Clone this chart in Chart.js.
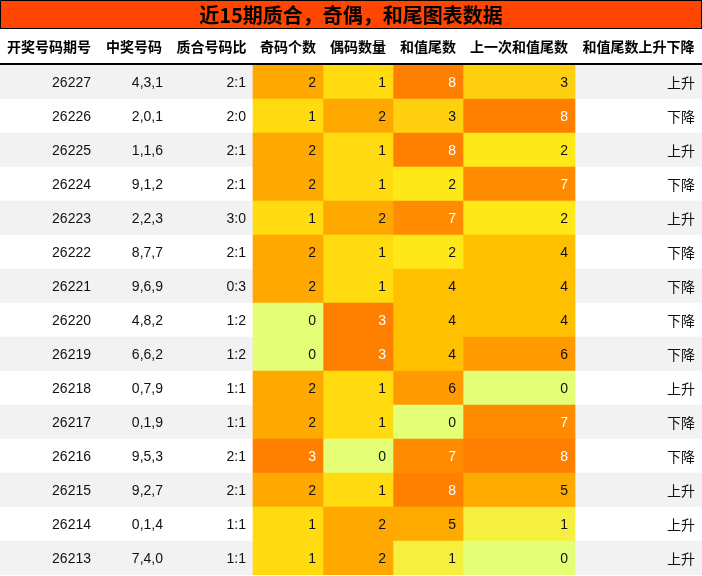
<!DOCTYPE html>
<html><head><meta charset="utf-8">
<script src="https://cdn.jsdelivr.net/npm/chart.js@4/dist/chart.umd.min.js"></script>
<style>html,body{margin:0;padding:0;background:#fff}canvas{display:block}</style>
</head><body><canvas id="c" width="702" height="576"></canvas>
<script>
const title = '近15期质合，奇偶，和尾图表数据';
const headers = ['开奖号码期号','中奖号码','质合号码比','奇码个数','偶码数量','和值尾数','上一次和值尾数','和值尾数上升下降'];
const periods = ['26227','26226','26225','26224','26223','26222','26221','26220','26219','26218','26217','26216','26215','26214','26213'];
const numbers = ['4,3,1','2,0,1','1,1,6','9,1,2','2,2,3','8,7,7','9,6,9','4,8,2','6,6,2','0,7,9','0,1,9','9,5,3','9,2,7','0,1,4','7,4,0'];
const ratios = ['2:1','2:0','2:1','2:1','3:0','2:1','0:3','1:2','1:2','1:1','1:1','2:1','2:1','1:1','1:1'];
const oddCount = [2,1,2,2,1,2,2,0,0,2,2,3,2,1,1];
const evenCount = [1,2,1,1,2,1,1,3,3,1,1,0,1,2,2];
const sumTail = [8,3,8,2,7,2,4,4,4,6,0,7,8,5,1];
const prevTail = [3,8,2,7,2,4,4,4,6,0,7,8,5,1,0];
const trend = ['上升','下降','上升','下降','上升','下降','下降','下降','下降','上升','下降','下降','上升','上升','上升'];

const colEdges = [0,98,170,253,323,393,463,575,702];
const countColors = ['#e4ff75','#ffdb10','#ffa800','#ff8000'];
const tailColors = ['#e4ff75','#f5f040','#ffe818','#ffd010','#ffc000','#ffaa00','#ff9a00','#ff8c00','#ff8000','#ff8000'];

const columns = [periods, numbers, ratios, oddCount, evenCount, sumTail, prevTail, trend];
const rows = periods.map((p,i)=>i);
const datasets = [{
  data: rows.map(()=>[0,702]),
  backgroundColor: rows.map(i=> i%2===0 ? '#f2f2f2' : '#ffffff'),
  order: 10
}];
[3,4,5,6].forEach(ci=>{
  const vals = columns[ci];
  const pal = ci<5 ? countColors : tailColors;
  datasets.push({
    data: vals.map(()=>[colEdges[ci], colEdges[ci+1]]),
    backgroundColor: vals.map(v=>pal[v]),
    order: 1
  });
});

const textPlugin = {
  id:'tbl',
  beforeDraw(ch){
    const c = ch.ctx;
    c.save();
    c.fillStyle='#fff'; c.fillRect(0,0,702,576);
    c.fillStyle='#ff4500'; c.fillRect(0,0,702,28);
    c.strokeStyle='#000'; c.lineWidth=1; c.strokeRect(0.5,0.5,701,28);
    c.fillStyle='#000'; c.font='bold 20px "Noto Sans CJK SC"'; c.textAlign='center'; c.textBaseline='middle';
    c.fillText(title,351,15);
    c.font='bold 14px "Noto Sans CJK SC"';
    headers.forEach((h,i)=>c.fillText(h,(colEdges[i]+colEdges[i+1])/2,47));
    c.restore();
  },
  afterDraw(ch){
    const c = ch.ctx, y = ch.scales.y, x = ch.scales.x;
    c.save();
    c.fillStyle='#000'; c.fillRect(0,63,702,2);
    c.textAlign='right'; c.textBaseline='middle';
    columns.forEach((col,ci)=>{
      col.forEach((v,ri)=>{
        const yy = y.getPixelForValue(ri)+1;
        const xx = x.getPixelForValue(colEdges[ci+1]) - 7;
        let white = (ci===3||ci===4) ? v===3 : (ci===5||ci===6) ? v>=7 : false;
        c.fillStyle = white ? '#ffffff' : '#111';
        c.font = ci===7 ? '14px "Noto Sans CJK SC"' : '14px "Liberation Sans"';
        c.fillText(String(v), xx, yy);
      });
    });
    c.restore();
  }
};

new Chart(document.getElementById('c'), {
  type:'bar',
  data:{ labels: rows, datasets },
  options:{
    responsive:false, animation:false, indexAxis:'y',
    layout:{ padding:{ top:65, left:0, right:0, bottom:1 } },
    plugins:{ legend:{display:false}, tooltip:{enabled:false}, title:{display:false} },
    datasets:{ bar:{ barPercentage:1, categoryPercentage:1, grouped:false, borderWidth:0 } },
    scales:{
      x:{ type:'linear', min:0, max:702, display:false },
      y:{ display:false, offset:true }
    }
  },
  plugins:[textPlugin]
});
</script></body></html>
